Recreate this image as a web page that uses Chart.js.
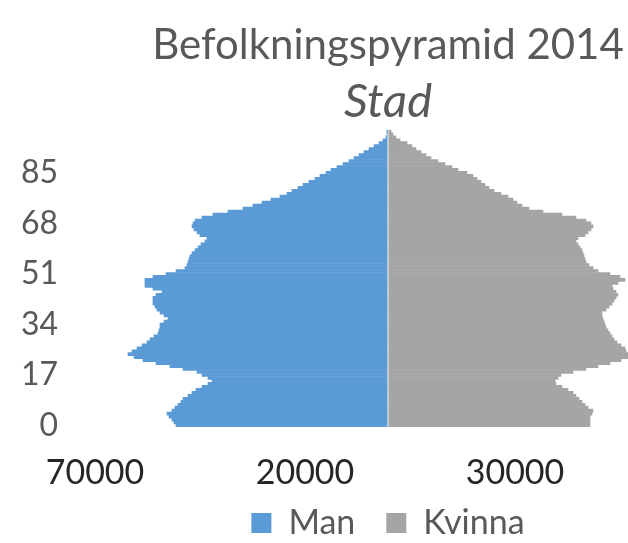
<!DOCTYPE html>
<html>
<head>
<meta charset="utf-8">
<script src="https://cdn.jsdelivr.net/npm/chart.js@4/dist/chart.umd.min.js"></script>
<style>
  html, body { margin: 0; padding: 0; overflow: hidden; background: #fff; }
  #wrap { width: 776px; height: 572px; }
</style>
</head>
<body>
<div id="wrap"><canvas id="pyramid"></canvas></div>
<script>
// ages 0..99
const ages = Array.from({ length: 100 }, (_, i) => String(i))

// persons per age
const man = [
  21200, 21400, 21600, 21900, 22100, 21600, 21300, 21000, 20700, 20500,
  20000, 19600, 19200, 18600, 18000, 17600, 18000, 18600, 19100, 20500,
  21800, 23200, 24500, 25400, 26000, 25600, 25100, 24600, 24100, 23800,
  23400, 23000, 22900, 22800, 22800, 22400, 22000, 22400, 22800, 23100,
  23300, 23500, 23500, 23500, 23200, 22600, 23500, 24300, 24300, 24300,
  23500, 22200, 21200, 20300, 20100, 20000, 19900, 19800, 19600, 19300,
  19000, 18700, 18300, 18100, 18800, 19100, 19400, 19600, 19500, 19300,
  18600, 17500, 16000, 14500, 13500, 12600, 11700, 10800, 10100, 9600,
  9000, 8500, 7900, 7300, 6800, 6200, 5700, 5100, 4500, 3900,
  3400, 2900, 2400, 1900, 1400, 900, 500, 200, 100, 50
]
const kvinna = [
  20200, 20200, 20200, 20200, 20400, 20500, 20000, 19700, 19400, 19100,
  18800, 18500, 18000, 17400, 16800, 16700, 17000, 17300, 18500, 19800,
  21000, 22200, 23300, 24000, 24000, 23800, 23700, 23300, 22900, 22600,
  22400, 22200, 22000, 21800, 21700, 21600, 21500, 21400, 21400, 21800,
  22100, 22400, 22600, 22800, 23000, 22800, 22500, 22400, 23000, 23700,
  23200, 22200, 21000, 20500, 20100, 19800, 19700, 19600, 19500, 19400,
  19200, 19000, 18800, 19000, 19700, 20000, 20300, 20500, 20300, 19800,
  18800, 17400, 15500, 14100, 13400, 12900, 12500, 12000, 11300, 10600,
  10100, 9700, 9300, 8900, 8500, 7900, 7000, 6400, 5700, 5000,
  4300, 3800, 3300, 2800, 2400, 1900, 1200, 800, 500, 300
]

// x axis: where the ticks sit and what they say
const xTickValues = [-29300, -8300, 0, 12700, 33700]
const xTickLabels = ['70000', '20000', '', '30000', '']
const yTickStep = 17

// pull the legend up closer to the axis labels
const legendLift = {
  id: 'legendLift',
  afterLayout(chart) {
    const l = chart.legend
    l.top -= 22
    l.bottom -= 22
  },
}

const ctx = document.getElementById('pyramid').getContext('2d')
new Chart(ctx, {
  type: 'bar',
  data: {
    labels: ages,
    datasets: [
      {
        label: 'Man',
        data: man.map((v) => -v),
        backgroundColor: '#5b9bd5',
      },
      {
        label: 'Kvinna',
        data: kvinna,
        backgroundColor: '#a5a5a5',
      },
    ],
  },
  plugins: [legendLift],
  options: {
    indexAxis: 'y',
    responsive: true,
    maintainAspectRatio: false,
    animation: false,
    layout: { padding: 0 },
    datasets: {
      bar: { barPercentage: 1, categoryPercentage: 1, borderWidth: 0, grouped: false },
    },
    scales: {
      x: {
        type: 'linear',
        min: -29300,
        max: 38800,
        z: 1,
        afterBuildTicks: (axis) => {
          axis.ticks = xTickValues.map((v) => ({ value: v }))
        },
        afterFit: (axis) => {
          axis.height = 70
        },
        ticks: {
          color: '#262626',
          font: { family: 'Lato', size: 34 },
          padding: 26,
          maxRotation: 0,
          autoSkip: false,
          callback: (value) => {
            const i = xTickValues.indexOf(value)
            return i >= 0 ? xTickLabels[i] : ''
          },
        },
        grid: {
          drawTicks: false,
          lineWidth: 2,
          color: (c) => (c.tick && c.tick.value === 0 ? '#e4e4e4' : 'rgba(0,0,0,0)'),
        },
        border: { display: false },
      },
      y: {
        reverse: true,
        afterFit: (axis) => {
          axis.width = 95
        },
        ticks: {
          color: '#595959',
          font: { family: 'Lato', size: 32 },
          padding: 37,
          autoSkip: false,
          callback: (value, index) => (index % yTickStep === 0 ? ages[index] : ''),
        },
        grid: { display: false, drawTicks: false },
        border: { display: false },
      },
    },
    plugins: {
      title: {
        display: true,
        text: 'Befolkningspyramid 2014',
        color: '#595959',
        font: { family: 'Lato', size: 42, weight: 'normal' },
        padding: { top: 20, bottom: 0 },
      },
      subtitle: {
        display: true,
        text: 'Stad',
        color: '#595959',
        font: { family: 'Lato', size: 47, style: 'italic', weight: 'normal' },
        padding: { top: 3, bottom: 0 },
      },
      legend: {
        position: 'bottom',
        labels: {
          color: '#595959',
          font: { family: 'Lato', size: 34 },
          boxWidth: 20,
          boxHeight: 20,
          padding: 31,
        },
      },
      tooltip: { enabled: false },
    },
  },
})
</script>
</body>
</html>
